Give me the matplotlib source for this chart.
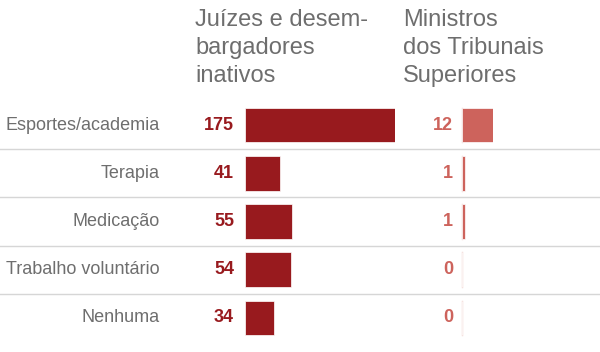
import matplotlib
matplotlib.use("Agg")
import matplotlib.pyplot as plt

# dados
categorias = ["Esportes/academia", "Terapia", "Medicação", "Trabalho voluntário", "Nenhuma"]
juizes = [175, 41, 55, 54, 34]
ministros = [12, 1, 1, 0, 0]
titulo_juizes = "Juízes e desem-\nbargadores\ninativos"
titulo_ministros = "Ministros\ndos Tribunais\nSuperiores"

COR_ESCURA = "#981a1e"
COR_CLARA = "#cd635c"
COR_TEXTO = "#6e6e6e"
COR_LINHA = "#d6d6d6"

W, H = 600, 352
plt.rcParams["font.family"] = ["Liberation Sans", "DejaVu Sans"]

fig = plt.figure(figsize=(W / 100, H / 100), dpi=100)

# área das linhas (pixels)
topo, base = 101, 342
n = len(categorias)


def eixo(x0, largura):
    return fig.add_axes([x0 / W, 1 - base / H, largura / W, (base - topo) / H])


ax1 = eixo(245, 150)
ax2 = eixo(462, 31)

for ax, vals, cor, vmax in [(ax1, juizes, COR_ESCURA, 175), (ax2, ministros, COR_CLARA, 12)]:
    ax.barh(range(n), vals, height=0.72, color=cor, edgecolor="white", linewidth=0.5)
    ax.set_xlim(0, vmax)
    ax.set_ylim(n - 0.5, -0.5)
    ax.axis("off")

# linha de base clara nos ministros
for i in range(n):
    ax2.plot([0, 0], [i - 0.36, i + 0.36], color="#f0d3d0", lw=1, zorder=0, clip_on=False)

# separadores horizontais
for i in range(n - 1):
    ax1.axhline(i + 0.5, xmin=-245 / 150, xmax=(W - 245) / 150, color=COR_LINHA,
                lw=1, clip_on=False)

t1 = ax1.get_yaxis_transform()
t2 = ax2.get_yaxis_transform()
for i, (cat, a, b) in enumerate(zip(categorias, juizes, ministros)):
    ax1.text((160 - 245) / 150, i, cat, transform=t1, ha="right", va="center",
             fontsize=13, color=COR_TEXTO)
    ax1.text((234 - 245) / 150, i, str(a), transform=t1, ha="right", va="center",
             fontsize=13, fontweight="bold", color=COR_ESCURA)
    ax2.text((453 - 462) / 31, i, str(b), transform=t2, ha="right", va="center",
             fontsize=13, fontweight="bold", color=COR_CLARA)

fig.text(195 / W, 1 - 9 / H, titulo_juizes, ha="left", va="top", fontsize=17,
         color=COR_TEXTO, linespacing=1.36)
fig.text(403 / W, 1 - 9 / H, titulo_ministros, ha="left", va="top", fontsize=17,
         color=COR_TEXTO, linespacing=1.36)

fig.savefig("out.png", dpi=100, facecolor="white")
